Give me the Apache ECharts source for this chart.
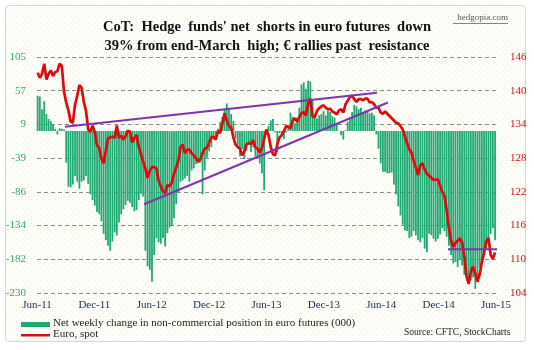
<!DOCTYPE html>
<html>
<head>
<meta charset="utf-8">
<script src="https://cdn.jsdelivr.net/npm/echarts@6/dist/echarts.min.js"></script>
<style>
  html, body { margin: 0; padding: 0; background: #ffffff; }
  #chart { width: 534px; height: 350px; }
</style>
</head>
<body>
<div id="chart"></div>
<script>
// Weekly observations, one per week starting from this date
const firstWeek = '2011-06-03';

// Net weekly change in non-commercial euro futures positions (000 contracts)
const netChange = [
  50, 49, 31, 42, 24, 17, 14, 10, 3, -5, 4, 3, 2, -45, -79, -80, -76, -64, -72, -82,
  -72, -70, -64, -75, -90, -98, -106, -115, -118, -128, -146, -155, -163, -170, -157, -144, -148, -130, -118, -111,
  -105, -99, -102, -108, -114, -112, -98, -89, -93, -170, -192, -197, -214, -176, -152, -158, -160, -152, -164, -145,
  -137, -135, -124, -104, -88, -72, -70, -67, -64, -72, -56, -53, -47, -46, -45, -90, -56, -38, -29, -23,
  -12, -7, 3, 13, 20, 30, 39, 32, 24, 14, -11, -20, -36, -26, -40, -28, -20, -30, -23, -36,
  -39, -46, -60, -84, -5, 7, 15, 17, -2, -30, -3, -8, -11, -2, 6, 26, 20, 11, 19, 33,
  66, 69, 60, 71, 70, 45, 21, 18, 22, 24, 28, 22, 29, 27, 21, 19, 11, 0, -6, -12,
  1, 13, 20, 27, 37, 35, 31, 33, 27, 29, 27, 25, 26, 22, -5, -25, -46, -58, -58, -60,
  -60, -59, -76, -90, -107, -120, -133, -141, -142, -152, -150, -142, -148, -155, -158, -152, -167, -172, -146, -148,
  -153, -157, -153, -147, -138, -142, -150, -163, -176, -188, -186, -193, -183, -191, -204, -202, -209, -212, -208, -224,
  -206, -194, -186, -174, -169, -162, -146, -138, -155
];

// Euro spot (US cents per euro), same weeks
const euroSpot = [
  143.2, 142.3, 143.0, 144.8, 142.0, 143.0, 143.6, 142.6, 143.3, 143.5, 144.8, 144.4, 139.8, 137.9, 136.5, 134.5, 134.3, 137.5, 139.1, 141.0,
  140.5, 138.0, 136.4, 133.1, 132.7, 133.8, 132.6, 130.3, 129.8, 128.0, 127.1, 129.3, 131.5, 131.7, 131.8, 131.6, 133.8, 131.6, 132.0, 131.3,
  131.9, 132.9, 132.7, 130.8, 131.6, 132.1, 130.0, 128.7, 127.4, 126.1, 124.5, 125.8, 126.4, 126.4, 126.2, 124.0, 123.0, 122.1, 121.8, 123.2,
  123.0, 123.6, 125.2, 126.3, 127.5, 130.0, 130.4, 128.9, 129.5, 129.5, 128.9, 128.5, 128.0, 127.4, 127.8, 128.9, 129.7, 129.8, 130.8, 131.7,
  131.8, 131.3, 132.8, 132.5, 134.1, 136.0, 134.7, 133.7, 133.5, 131.7, 130.4, 130.0, 129.7, 128.5, 129.2, 130.5, 130.7, 130.5, 131.2, 129.9,
  129.7, 129.0, 129.8, 131.4, 133.1, 132.1, 130.0, 128.7, 128.5, 130.5, 131.7, 132.1, 132.8, 133.7, 133.6, 133.3, 134.7, 135.1, 134.5, 135.3,
  136.0, 136.2, 135.6, 137.7, 138.6, 135.4, 135.3, 136.4, 136.9, 137.2, 137.4, 137.0, 136.7, 136.8, 136.3, 136.1, 135.8, 136.5, 136.7, 136.1,
  137.6, 138.2, 138.9, 139.1, 138.5, 138.0, 138.5, 138.5, 138.3, 138.6, 138.6, 137.9, 138.0, 137.6, 137.0, 137.0, 136.1, 135.9, 136.3, 135.9,
  135.5, 135.1, 134.7, 134.3, 134.2, 133.7, 133.1, 131.8, 130.7, 129.6, 129.0, 127.5, 126.3, 125.0, 126.7, 127.1, 126.0, 125.2, 124.9, 124.5,
  124.1, 124.2, 124.2, 123.1, 122.0, 121.3, 118.7, 115.6, 113.3, 112.2, 112.9, 113.3, 113.7, 113.0, 110.7, 107.0, 105.6, 107.8, 108.7, 107.5,
  106.0, 107.3, 109.5, 111.1, 113.2, 113.8, 110.8, 110.1, 111.2
];

// Hand-drawn trend lines on the euro scale: [date, level]
const upperTrend = [['2011-08-29', 133.6], ['2014-05-18', 139.65]];
const risingTrend = [['2012-05-07', 119.8], ['2014-06-22', 137.9]];
const flatResistance = [['2014-12-30', 111.8], ['2015-06-10', 111.8]];

// Axis labels
const xTickLabels = ['Jun-11', 'Dec-11', 'Jun-12', 'Dec-12', 'Jun-13', 'Dec-13', 'Jun-14', 'Dec-14', 'Jun-15'];
const leftTickLabels = ['-230', '-182', '-134', '-86', '-39', '9', '57', '105'];

const DAY = 86400000;
const origin = Date.parse('2011-06-01T00:00:00Z');
// position on the x axis, in months since the start of June 2011
function monthPos(t) { return (t - origin) / DAY / 30.4375; }
function datePos(s) { return monthPos(Date.parse(s + 'T00:00:00Z')); }

const weekStart = Date.parse(firstWeek + 'T00:00:00Z');
const weekPos = netChange.map((_, i) => monthPos(weekStart + i * 7 * DAY));

const barData = netChange.map((v, i) => [weekPos[i], v]);
const lineData = euroSpot.map((v, i) => [weekPos[i], v]);
const toPts = arr => arr.map(p => [datePos(p[0]), p[1]]);

// faint dotted paper texture
const dots = document.createElement('canvas');
dots.width = 6; dots.height = 6;
(function () {
  const g = dots.getContext('2d');
  g.fillStyle = '#fdfdf9';
  g.fillRect(0, 0, 6, 6);
  g.fillStyle = '#eeecca';
  g.fillRect(1, 1, 1, 1);
  g.fillRect(4, 4, 1, 1);
})();

const serif = '"Liberation Serif", "DejaVu Serif", serif';
const LEFT_MIN = -230, LEFT_MAX = 105;

const chart = echarts.init(document.getElementById('chart'), null, { renderer: 'canvas' });

chart.setOption({
  animation: false,
  backgroundColor: '#ffffff',
  textStyle: { fontFamily: serif },
  grid: { left: 37, right: 38, top: 57, bottom: 57, containLabel: false },
  graphic: [
    {
      type: 'rect', z: -10, silent: true,
      shape: { x: 5.5, y: 5.5, width: 520, height: 336, r: 3 },
      style: { fill: { image: dots, repeat: 'repeat' }, stroke: '#cfd7e2', lineWidth: 1 }
    },
    {
      type: 'text', left: 'center', top: 18,
      style: {
        text: "CoT:  Hedge  funds' net  shorts in euro futures  down\n39% from end-March  high; \u20AC rallies past  resistance",
        font: 'bold 14.5px ' + serif, fill: '#111', textAlign: 'center', lineHeight: 19
      }
    },
    {
      type: 'text', right: 26, top: 13,
      style: { text: 'hedgopia.com', font: '9px ' + serif, fill: '#555' }
    },
    {
      type: 'line', silent: true,
      shape: { x1: 453, y1: 23.5, x2: 508, y2: 23.5 },
      style: { stroke: '#666', lineWidth: 0.8 }
    },
    // legend
    { type: 'rect', shape: { x: 21, y: 322, width: 29, height: 5 }, style: { fill: '#1fa971' } },
    { type: 'rect', shape: { x: 21, y: 334, width: 29, height: 2.5 }, style: { fill: '#cc1111' } },
    {
      type: 'text', left: 53, top: 318,
      style: { text: 'Net weekly change in non-commercial position in euro futures (000)', font: '11px ' + serif, fill: '#222' }
    },
    {
      type: 'text', left: 53, top: 329,
      style: { text: 'Euro, spot', font: '11px ' + serif, fill: '#222' }
    },
    {
      type: 'text', left: 404, top: 327,
      style: { text: 'Source: CFTC, StockCharts', font: '9.5px ' + serif, fill: '#222' }
    }
  ],
  xAxis: {
    type: 'value', min: 0, max: 48, interval: 6,
    axisLine: { show: false }, axisTick: { show: false }, splitLine: { show: false },
    axisLabel: {
      margin: 7, fontSize: 11, color: '#1a2a55', fontFamily: serif,
      formatter: v => xTickLabels[Math.round(v / 6)] || ''
    }
  },
  yAxis: [
    {
      type: 'value', min: LEFT_MIN, max: LEFT_MAX, interval: (LEFT_MAX - LEFT_MIN) / 7,
      axisLine: { show: false }, axisTick: { show: false },
      splitLine: { show: true, lineStyle: { color: '#8a8a8a', type: [4, 3], width: 1 } },
      axisLabel: {
        margin: 11, fontSize: 11, color: '#2eaa6c', fontFamily: serif,
        formatter: v => leftTickLabels[Math.round((v - LEFT_MIN) / ((LEFT_MAX - LEFT_MIN) / 7))]
      }
    },
    {
      type: 'value', min: 104, max: 146, interval: 6,
      axisLine: { show: false }, axisTick: { show: false }, splitLine: { show: false },
      axisLabel: { margin: 14, fontSize: 11, color: '#d0101b', fontFamily: serif }
    }
  ],
  series: [
    {
      name: 'Net weekly change in non-commercial position in euro futures (000)',
      type: 'bar', yAxisIndex: 0, barWidth: 1.8,
      itemStyle: { color: '#1fa971' },
      data: barData, z: 2
    },
    {
      name: 'Euro, spot', type: 'line', yAxisIndex: 1, showSymbol: false,
      lineStyle: { color: '#e10a0a', width: 2.7 },
      data: lineData, z: 3, clip: false
    },
    {
      type: 'line', yAxisIndex: 1, showSymbol: false, clip: false,
      lineStyle: { color: '#7d35ad', width: 2 }, data: toPts(upperTrend), z: 4
    },
    {
      type: 'line', yAxisIndex: 1, showSymbol: false, clip: false,
      lineStyle: { color: '#7d35ad', width: 2 }, data: toPts(risingTrend), z: 4
    },
    {
      type: 'line', yAxisIndex: 1, showSymbol: false, clip: false,
      lineStyle: { color: '#7d35ad', width: 2 }, data: toPts(flatResistance), z: 4
    }
  ]
});
</script>
</body>
</html>
